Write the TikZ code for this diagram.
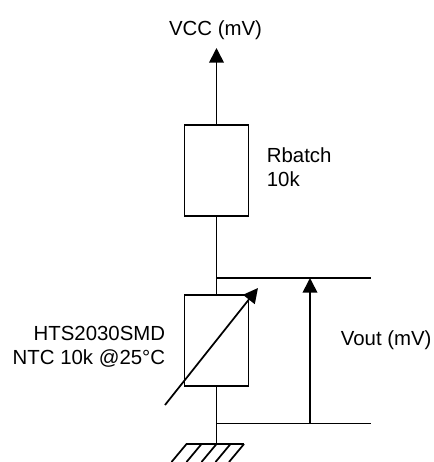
\documentclass[tikz,border=0pt]{standalone}
\usepackage{fontspec}
\setmainfont{Liberation Sans}
\usetikzlibrary{arrows.meta}

\begin{document}
\begin{tikzpicture}[
    x = 0.75pt, y = -0.75pt,
    line width = 1.3pt,
    every node/.style = {font = \fontsize{15.3pt}{18pt}\selectfont, inner sep = 0pt},
    part/.style = {draw, minimum width = 48pt, minimum height = 68.5pt},
    tip/.style = {-{Triangle[length = 11pt, width = 11pt]}}]

\useasboundingbox (0,0) rectangle (434,462);

\node[part] (rbatch) at (216.5,170.5) {};
\node[part] (ntc) at (216.5,340.5) {};

\coordinate (vcc) at (216.5,48);
\coordinate (top) at (216.5,278);
\coordinate (bot) at (216.5,423.5);
\coordinate (gnd) at (216.5,444);
\coordinate (topend) at (371,278);
\coordinate (botend) at (371,423.5);
\coordinate (voutbot) at (310,423.5);
\coordinate (vouttop) at (310,278);
\coordinate (adjstart) at (165,405);
\coordinate (adjend) at (258,288);
\coordinate (gndl) at (186,444);
\coordinate (gndr) at (244.5,444);

\draw[tip] (rbatch.north) -- (vcc);
\draw (rbatch.south) -- (ntc.north);
\draw (ntc.south) -- (gnd);
\draw (top) -- (topend);
\draw (bot) -- (botend);
\draw[tip] (voutbot) -- (vouttop);
\draw[tip] (adjstart) -- (adjend);
\draw (gndl) -- (gndr);
\foreach \x in {186.5,201.5,216.5,230.5,244}
	\draw (\x,444) -- (\x-15,462);

\path (215.5,35) node[anchor=base](vcclabel) {VCC (mV)}
	  (266,162) node[anchor=base west](rlabel) {Rbatch}
	  (266,186) node[anchor=base west](rvalue) {10k}
	  (166,340.5) node[anchor=base east](ntclabel) {HTS2030SMD}
	  (166,364) node[anchor=base east](ntcvalue) {NTC 10k @25°C}
	  (340,345) node[anchor=base west](voutlabel) {Vout (mV)};
\end{tikzpicture}
\end{document}
